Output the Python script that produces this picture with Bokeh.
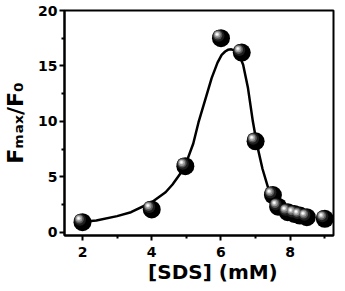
from bokeh.plotting import figure
from bokeh.models import FixedTicker, Range1d
from bokeh.embed import file_html
from bokeh.resources import INLINE

# measured data points
sds = [2.0, 4.0, 4.97, 6.0, 6.6, 7.0, 7.5, 7.65, 7.93, 8.12, 8.28, 8.48, 9.0]
fratio = [0.9, 2.05, 5.95, 17.5, 16.2, 8.2, 3.35, 2.3, 1.8, 1.65, 1.5, 1.35, 1.2]

# fitted curve
fit_x = [2.0, 2.4, 3.0, 3.4, 4.0, 4.4, 4.6, 4.9, 5.0, 5.2, 5.35, 5.55, 5.73, 5.9,
         6.02, 6.12, 6.2, 6.3, 6.38, 6.44, 6.55, 6.64, 6.78, 6.92, 7.04, 7.2,
         7.39, 7.5, 7.7, 8.0, 8.3, 8.6]
fit_y = [0.95, 1.06, 1.45, 1.8, 2.7, 3.6, 4.3, 5.6, 6.3, 8.0, 9.9, 12.0, 13.9, 15.3,
         16.0, 16.3, 16.45, 16.5, 16.4, 16.2, 15.8, 15.1, 13.0, 10.0, 7.9, 5.7,
         3.7, 3.0, 2.2, 1.8, 1.55, 1.4]

x_ticks = [2, 4, 6, 8]
x_minor = [3, 5, 7, 9]
y_ticks = [0, 5, 10, 15, 20]
y_minor = [2.5, 7.5, 12.5, 17.5]

x_title = "\u00a0\u00a0\u00a0\u00a0[SDS] (mM)"
y_title = "F\u2098\u2090\u2093/F\u2080"

FONT = "DejaVu Sans"
W, H = 345, 291
BL, BR, BT, BB = 61, 12, 10, 56

x0, x1 = 1.48, 9.25
y0, y1 = -0.3, 20.0

p = figure(width=W, height=H, output_backend="svg", toolbar_location=None,
           x_range=Range1d(x0, x1), y_range=Range1d(y0, y1),
           min_border_left=BL, min_border_right=BR, min_border_top=BT, min_border_bottom=BB)
p.grid.visible = False
p.outline_line_color = "black"
p.outline_line_width = 2
p.background_fill_color = "white"
p.border_fill_color = "white"

for ax in (p.xaxis[0], p.yaxis[0]):
    ax.axis_line_width = 2
    ax.major_tick_line_width = 2
    ax.minor_tick_line_width = 2
    ax.major_tick_in = 0
    ax.major_tick_out = 5
    ax.minor_tick_in = 0
    ax.minor_tick_out = 3
    ax.major_label_text_font = FONT
    ax.major_label_text_font_style = "bold"
    ax.major_label_text_font_size = "14px"
    ax.major_label_text_color = "black"
    ax.axis_label_text_font = FONT
    ax.axis_label_text_font_style = "bold"
    ax.axis_label_text_color = "black"

p.xaxis.ticker = FixedTicker(ticks=x_ticks, minor_ticks=x_minor)
p.yaxis.ticker = FixedTicker(ticks=y_ticks, minor_ticks=y_minor)
p.xaxis.major_label_standoff = 6
p.yaxis.major_label_standoff = 2
p.xaxis.axis_label = x_title
p.xaxis.axis_label_text_font_size = "20px"
p.xaxis.axis_label_standoff = 0
p.yaxis.axis_label = y_title
p.yaxis.axis_label_text_font_size = "22px"
p.yaxis.axis_label_standoff = 7

# fit curve
p.line(fit_x, fit_y, line_color="black", line_width=2.5)

# spheres: black body + highlight layers offset up-left
fw = W - BL - BR
fh = H - BT - BB
dxu = (x1 - x0) / fw
dyu = (y1 - y0) / fh
layers = [(18, "#000000", 0, 0), (12, "#1e1e1e", -2.5, 2.5), (9, "#5a5a5a", -3.2, 3.2),
          (6.5, "#9a9a9a", -3.6, 3.6), (4, "#d8d8d8", -3.9, 3.9), (2, "#ffffff", -4, 4)]
for size, col, ox, oy in layers:
    p.scatter([v + ox * dxu for v in sds], [v + oy * dyu for v in fratio],
              size=size, fill_color=col, line_color=None)

open("out.html", "w").write(file_html(p, INLINE))
